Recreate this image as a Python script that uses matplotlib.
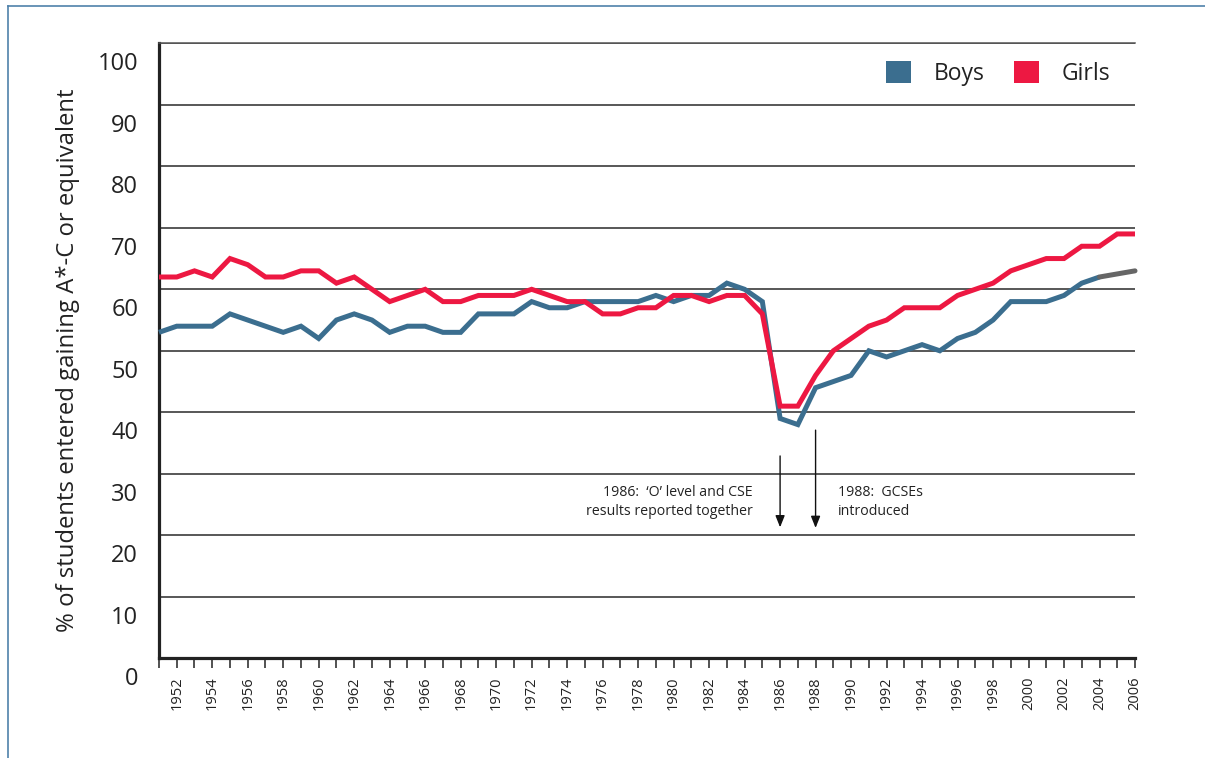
import matplotlib
matplotlib.use("Agg")
import matplotlib.pyplot as plt
import matplotlib.transforms as mtransforms
from matplotlib.patches import Patch
from matplotlib.lines import Line2D

years = list(range(1951, 2007))
boys = [53, 54, 54, 54, 56, 55, 54, 53, 54, 52,
        55, 56, 55, 53, 54, 54, 53, 53, 56, 56,
        56, 58, 57, 57, 58, 58, 58, 58, 59, 58,
        59, 59, 61, 60, 58, 39, 38, 44, 45, 46,
        50, 49, 50, 51, 50, 52, 53, 55, 58, 58,
        58, 59, 61, 62, 62.5, 63]
girls = [62, 62, 63, 62, 65, 64, 62, 62, 63, 63,
         61, 62, 60, 58, 59, 60, 58, 58, 59, 59,
         59, 60, 59, 58, 58, 56, 56, 57, 57, 59,
         59, 58, 59, 59, 56, 41, 41, 46, 50, 52,
         54, 55, 57, 57, 57, 59, 60, 61, 63, 64,
         65, 65, 67, 67, 69, 69]
boys_estimate_from = 2004
yticks = [0, 10, 20, 30, 40, 50, 60, 70, 80, 90, 100]
series_names = ["Boys", "Girls"]
ylabel = "% of students entered gaining A*-C or equivalent"
note_1986 = "1986:  \u2018O\u2019 level and CSE\nresults reported together"
note_1988 = "1988:  GCSEs\nintroduced"

BLUE = "#3b6e8f"
RED = "#ed1842"
GREY = "#666666"
FONT = "Open Sans"

plt.rcParams["font.family"] = [FONT, "DejaVu Sans"]

W, H = 1205, 758
fig = plt.figure(figsize=(W / 100, H / 100), dpi=100)
x0, x1 = 159, 1135
ytop, ybot = 43.3, 658.3
ax = fig.add_axes([x0 / W, 1 - ybot / H, (x1 - x0) / W, (ybot - ytop) / H])

# frame lines of the figure
fig.add_artist(Line2D([8 / W, 8 / W], [0, 1 - 6 / H], transform=fig.transFigure,
                      color="#4f81aa", lw=1.2))
fig.add_artist(Line2D([8 / W, 1], [1 - 6 / H, 1 - 6 / H], transform=fig.transFigure,
                      color="#4f81aa", lw=1.2))

ax.set_xlim(years[0], years[-1])
ax.set_ylim(0, 100)

ax.set_yticks(yticks)
ax.set_yticklabels([str(v) for v in yticks])
ax.yaxis.grid(True, color="#2a2a2a", lw=1.1)
ax.set_axisbelow(True)
ax.tick_params(axis="y", length=0, pad=15, labelsize=17, labelcolor="#222222")
offset = mtransforms.ScaledTranslation(0, -0.18, fig.dpi_scale_trans)
for lab in ax.get_yticklabels():
    lab.set_transform(lab.get_transform() + offset)

ax.set_xticks(years)
ax.set_xticklabels([str(y) if y % 2 == 0 else "" for y in years], rotation=90)
ax.tick_params(axis="x", direction="out", length=7, width=1.1, pad=6,
               labelsize=10.5, labelcolor="#222222", color="#222222")

ax.spines["right"].set_visible(False)
ax.spines["top"].set_color("#555555")
ax.spines["top"].set_linewidth(1.1)
ax.spines["left"].set_linewidth(2.3)
ax.spines["bottom"].set_linewidth(2.3)
ax.spines["left"].set_color("#222222")
ax.spines["bottom"].set_color("#222222")

i_est = years.index(boys_estimate_from)
ax.plot(years[:i_est + 1], boys[:i_est + 1], color=BLUE, lw=3.6,
        solid_joinstyle="miter", solid_capstyle="butt", clip_on=False, zorder=3)
ax.plot(years[i_est:], boys[i_est:], color=GREY, lw=3.6,
        solid_capstyle="round", clip_on=False, zorder=3)
ax.plot(years, girls, color=RED, lw=3.6, solid_joinstyle="miter",
        solid_capstyle="butt", clip_on=False, zorder=4)

# annotations
ax.annotate("", xy=(1986, 21.3), xytext=(1986, 32.9),
            arrowprops=dict(arrowstyle="-|>,head_length=0.5,head_width=0.2",
                            color="#111111", lw=1.0,
                            mutation_scale=14, shrinkA=0, shrinkB=0))
ax.annotate("", xy=(1988, 21.2), xytext=(1988, 37.1),
            arrowprops=dict(arrowstyle="-|>,head_length=0.5,head_width=0.2",
                            color="#111111", lw=1.0,
                            mutation_scale=14, shrinkA=0, shrinkB=0))
ax.text(1984.45, 25.4, note_1986, ha="right", va="center", fontsize=10.2,
        color="#222222", linespacing=1.35)
ax.text(1989.27, 25.4, note_1988, ha="left", va="center", fontsize=10.2,
        color="#222222", linespacing=1.35)

handles = [Patch(facecolor=BLUE, edgecolor="none"), Patch(facecolor=RED, edgecolor="none")]
ax.legend(handles, series_names, loc="upper right", ncol=2, frameon=False,
          fontsize=16.5, handlelength=1.1, handleheight=1.1, handletextpad=1.0,
          columnspacing=1.25, bbox_to_anchor=(0.996, 1.004), labelcolor="#222222",
          borderaxespad=0.5)

fig.text(68 / W, 1 - 360 / H, ylabel, rotation=90, ha="center", va="center",
         fontsize=17.2, color="#222222")

fig.savefig("out.png", dpi=100)
